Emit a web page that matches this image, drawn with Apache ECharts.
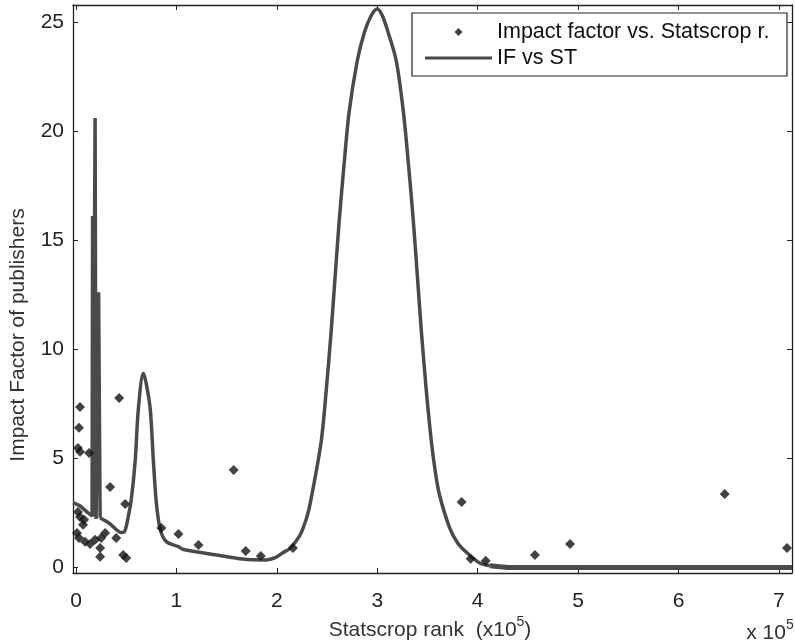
<!DOCTYPE html>
<html>
<head>
<meta charset="utf-8">
<script src="https://cdn.jsdelivr.net/npm/echarts@6/dist/echarts.min.js"></script>
<style>html,body{margin:0;padding:0;background:#fff;}#c{width:795px;height:644px;}</style>
</head>
<body>
<div id="c"></div>
<script>
// ---- data (x in units of 1e5 rank) ----
const xTicks = [0, 1, 2, 3, 4, 5, 6, 7];
const yTicks = [0, 5, 10, 15, 20, 25];

const scatterX = [0.04, 0.03, 0.02, 0.04, 0.13, 0.43, 0.34, 0.49, 0.02, 0.04, 0.08, 0.07,
  0.01, 0.03, 0.09, 0.14, 0.19, 0.25, 0.29, 0.24, 0.24, 0.40, 0.47, 0.50,
  0.85, 1.02, 1.22, 1.57, 1.69, 1.84, 2.16, 3.84, 3.93, 4.08, 4.57, 4.92, 6.46, 7.08];
const scatterY = [7.34, 6.38, 5.46, 5.28, 5.23, 7.75, 3.67, 2.89, 2.52, 2.29, 2.16, 1.93,
  1.56, 1.33, 1.15, 1.05, 1.24, 1.33, 1.56, 0.87, 0.46, 1.33, 0.55, 0.41,
  1.79, 1.51, 1.01, 4.45, 0.73, 0.50, 0.87, 2.98, 0.37, 0.28, 0.55, 1.05, 3.35, 0.87];

// fitted curve, part 1: start + narrow spike
const spikeX = [-0.03, 0.04, 0.12, 0.16, 0.165, 0.17, 0.19, 0.195, 0.20, 0.21, 0.225, 0.235, 0.24];
const spikeY = [2.95, 2.8, 2.48, 2.34, 16.1, 2.3, 20.6, 20.6, 2.2, 2.15, 12.6, 12.6, 2.25];
// part 2: small peak, valley and main peak
const curveX = [0.24, 0.34, 0.45, 0.48, 0.50, 0.52, 0.55, 0.59, 0.62, 0.67, 0.70, 0.74, 0.77, 0.80, 0.84, 0.90, 1.02,
  1.07, 1.40, 1.66, 1.89, 1.99, 2.06, 2.13, 2.23, 2.30, 2.34, 2.44, 2.49, 2.54, 2.58, 2.62, 2.67,
  2.72, 2.80, 2.87, 2.94, 3.00, 3.05, 3.11, 3.19, 3.26, 3.31, 3.36, 3.40, 3.44, 3.49, 3.54, 3.58,
  3.62, 3.72, 3.80, 3.90, 4.02, 4.12];
const curveY = [2.25, 1.97, 1.58, 1.6, 1.85, 2.3, 3.07, 4.9, 7.2, 8.88, 8.4, 7.2, 4.9, 2.94, 1.7, 1.16, 0.93,
  0.8, 0.55, 0.36, 0.32, 0.44, 0.65, 0.85, 1.45, 2.3, 3.1, 5.7, 8.0, 10.76, 13.3, 15.82, 18.5,
  20.88, 23.2, 24.5, 25.3, 25.6, 25.3, 24.5, 23.2, 20.88, 18.5, 15.82, 13.3, 10.76, 8.0, 5.7, 4.3,
  3.3, 1.8, 1.1, 0.62, 0.18, 0.05];
// part 3: flat tail
const tailX = [4.12, 4.30, 7.13];
const tailY = [0.05, -0.03, -0.03];

const seriesNames = ['Impact factor vs. Statscrop r.', 'IF vs ST'];

const zip = (xs, ys) => xs.map((x, i) => [x, ys[i]]);

const FONT = 'Liberation Sans, Arial, sans-serif';
const chart = echarts.init(document.getElementById('c'), null, {renderer: 'canvas'});

const xBase = {
  type: 'value', min: -0.03, max: 7.13,
  splitLine: {show: false},
  axisLine: {show: true, onZero: false, lineStyle: {color: '#222', width: 1.3}},
  axisTick: {show: true, inside: true, length: 5, customValues: xTicks, lineStyle: {color: '#222'}},
};
const yBase = {
  type: 'value', min: -0.28, max: 25.78,
  splitLine: {show: false},
  axisLine: {show: true, onZero: false, lineStyle: {color: '#222', width: 1.3}},
  axisTick: {show: true, inside: true, length: 5, customValues: yTicks, lineStyle: {color: '#222'}},
};
const LINE_COLOR = '#4a4a4a';

chart.setOption({
  animation: false,
  backgroundColor: '#fff',
  grid: {left: 73, right: 3, top: 5, bottom: 71, containLabel: false, outerBoundsMode: 'none'},
  xAxis: [
    Object.assign({}, xBase, {position: 'bottom',
      axisLabel: {show: true, customValues: xTicks, margin: 18, fontSize: 21, color: '#222', fontFamily: FONT}}),
    Object.assign({}, xBase, {position: 'top', axisLabel: {show: false}})
  ],
  yAxis: [
    Object.assign({}, yBase, {position: 'left',
      axisLabel: {show: true, customValues: yTicks, margin: 9, fontSize: 21, color: '#222', fontFamily: FONT}}),
    Object.assign({}, yBase, {position: 'right', axisLabel: {show: false}})
  ],
  legend: {
    orient: 'vertical', left: 420, top: 15,
    itemWidth: 67, itemHeight: 8, itemGap: 2,
    textStyle: {fontSize: 21.5, lineHeight: 24, color: '#111', fontFamily: FONT},
    data: [
      {name: seriesNames[0], icon: 'path://M5,0L10,5L5,10L0,5Z'},
      {name: seriesNames[1], icon: 'path://M0,0L67,0L67,3L0,3Z'}
    ],
    z: 10
  },
  graphic: [
    {type: 'rect', z: 5, shape: {x: 412, y: 13, width: 375, height: 63},
     style: {fill: '#fff', stroke: '#222', lineWidth: 1.2}},
    {type: 'text', x: 18, y: 335, rotation: Math.PI / 2,
     style: {text: 'Impact Factor of publishers', fontSize: 21, fontFamily: FONT, fill: '#333',
             align: 'center', verticalAlign: 'middle'}},
    {type: 'text', x: 430, y: 630,
     style: {text: '{a|Statscrop rank  (x10}{s|5}{a|)}', align: 'center', verticalAlign: 'middle',
             rich: {a: {fontSize: 21, fontFamily: FONT, fill: '#333', lineHeight: 30},
                    s: {fontSize: 14, fontFamily: FONT, fill: '#333', verticalAlign: 'top'}}}},
    {type: 'text', x: 770, y: 633,
     style: {text: '{a|x 10}{s|5}', align: 'center', verticalAlign: 'middle',
             rich: {a: {fontSize: 21, fontFamily: FONT, fill: '#333', lineHeight: 30},
                    s: {fontSize: 14, fontFamily: FONT, fill: '#333', verticalAlign: 'top'}}}}
  ],
  series: [
    {name: seriesNames[1], type: 'line', data: zip(spikeX, spikeY), symbol: 'none', z: 2,
     lineStyle: {color: LINE_COLOR, width: 3.5}, itemStyle: {color: LINE_COLOR}},
    {name: seriesNames[1], type: 'line', data: zip(curveX, curveY), symbol: 'none', z: 2,
     smooth: 0.3,
     lineStyle: {color: LINE_COLOR, width: 3.5}, itemStyle: {color: LINE_COLOR}},
    {name: seriesNames[1], type: 'line', data: zip(tailX, tailY), symbol: 'none', z: 2,
     lineStyle: {color: LINE_COLOR, width: 5}, itemStyle: {color: LINE_COLOR}},
    {name: seriesNames[0], type: 'scatter', data: zip(scatterX, scatterY), symbol: 'diamond', symbolSize: 10, z: 3,
     itemStyle: {color: '#111'}}
  ]
});
</script>
</body>
</html>
